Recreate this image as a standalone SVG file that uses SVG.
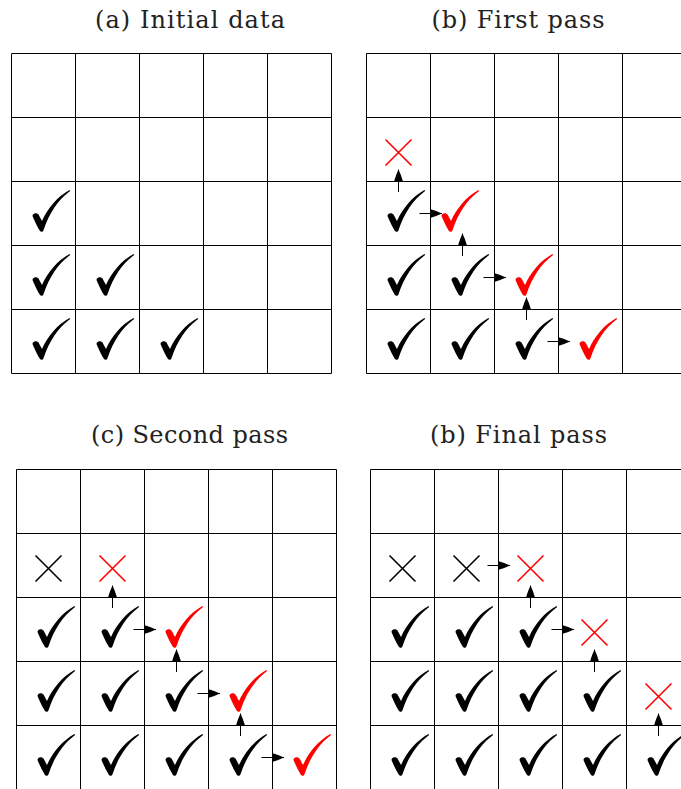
<svg xmlns="http://www.w3.org/2000/svg" xmlns:xlink="http://www.w3.org/1999/xlink" width="681" height="789" viewBox="0 0 681 789">
<style>
.grid{fill:none;stroke:#000;stroke-width:1}
.title{font-family:"DejaVu Serif","Liberation Serif",serif;font-size:24px;fill:#222;text-anchor:middle}
.k{fill:#000}
.r{fill:#f00}
.xk{stroke:#000;stroke-width:1.6;fill:none}
.xr{stroke:#f00;stroke-width:1.6;fill:none}
.arr{stroke:#000;stroke-width:1;fill:none;marker-end:url(#ah)}
</style>
<defs>
<path id="chk" d="M21,34.5 C21,32 24.5,30.5 27,33 L30.5,39.5 C36,27 46,15 58,8.5 C58.6,8.8 58.6,9.6 58,10 C46.5,18.5 37.5,32 32,48.8 C31.3,50.8 29.3,50.8 28.3,49.3 C25.8,45 23,39.5 21,34.5 Z"/>
<path id="crs" d="M19,22 L45,48 M45,22 L19,48"/>
<marker id="ah" viewBox="0 0 12 9" markerWidth="12" markerHeight="9" refX="12" refY="4.5" orient="auto" markerUnits="userSpaceOnUse">
<path d="M0,0 Q7,2 12,4.5 Q7,7 0,9 Z" fill="#000"/>
</marker>
</defs>
<rect width="681" height="789" fill="#fff"/>

<g id="titles">
<text class="title" x="190" y="28" textLength="190" lengthAdjust="spacing">(a) Initial data</text>
<text class="title" x="518" y="28" textLength="173" lengthAdjust="spacing">(b) First pass</text>
<text class="title" x="189.5" y="443" textLength="197" lengthAdjust="spacing">(c) Second pass</text>
<text class="title" x="518.5" y="443" textLength="177" lengthAdjust="spacing">(b) Final pass</text>
</g>

<g id="gridA"><path class="grid" d="M11.5,53.5h320v320h-320z M75.5,53.5v320 M139.5,53.5v320 M203.5,53.5v320 M267.5,53.5v320 M11.5,117.5h320 M11.5,181.5h320 M11.5,245.5h320 M11.5,309.5h320"/></g>
<g id="gridB"><path class="grid" d="M366.5,53.5h320v320h-320z M430.5,53.5v320 M494.5,53.5v320 M558.5,53.5v320 M622.5,53.5v320 M366.5,117.5h320 M366.5,181.5h320 M366.5,245.5h320 M366.5,309.5h320"/></g>
<g id="gridC"><path class="grid" d="M16.5,469.5h320v320h-320z M80.5,469.5v320 M144.5,469.5v320 M208.5,469.5v320 M272.5,469.5v320 M16.5,533.5h320 M16.5,597.5h320 M16.5,661.5h320 M16.5,725.5h320"/></g>
<g id="gridD"><path class="grid" d="M370.5,469.5h320v320h-320z M434.5,469.5v320 M498.5,469.5v320 M562.5,469.5v320 M626.5,469.5v320 M370.5,533.5h320 M370.5,597.5h320 M370.5,661.5h320 M370.5,725.5h320"/></g>

<g id="panelA">
<g id="a-r2c0"><use xlink:href="#chk" class="k" x="11.5" y="181.5"/></g>
<g id="a-r3c0"><use xlink:href="#chk" class="k" x="11.5" y="245.5"/></g>
<g id="a-r3c1"><use xlink:href="#chk" class="k" x="75.5" y="245.5"/></g>
<g id="a-r4c0"><use xlink:href="#chk" class="k" x="11.5" y="309.5"/></g>
<g id="a-r4c1"><use xlink:href="#chk" class="k" x="75.5" y="309.5"/></g>
<g id="a-r4c2"><use xlink:href="#chk" class="k" x="139.5" y="309.5"/></g>
</g>

<g id="panelB">
<g id="b-r1c0"><use xlink:href="#crs" class="xr" x="366.5" y="117.5"/></g>
<g id="b-r2c0"><use xlink:href="#chk" class="k" x="366.5" y="181.5"/></g>
<g id="b-r2c1"><use xlink:href="#chk" class="r" x="420.5" y="181.5"/></g>
<g id="b-r3c0"><use xlink:href="#chk" class="k" x="366.5" y="245.5"/></g>
<g id="b-r3c1"><use xlink:href="#chk" class="k" x="430.5" y="245.5"/></g>
<g id="b-r3c2"><use xlink:href="#chk" class="r" x="494.5" y="245.5"/></g>
<g id="b-r4c0"><use xlink:href="#chk" class="k" x="366.5" y="309.5"/></g>
<g id="b-r4c1"><use xlink:href="#chk" class="k" x="430.5" y="309.5"/></g>
<g id="b-r4c2"><use xlink:href="#chk" class="k" x="494.5" y="309.5"/></g>
<g id="b-r4c3"><use xlink:href="#chk" class="r" x="558.5" y="309.5"/></g>
</g>

<g id="panelC">
<g id="c-r1c0"><use xlink:href="#crs" class="xk" x="16.5" y="533.5"/></g>
<g id="c-r1c1"><use xlink:href="#crs" class="xr" x="80.5" y="533.5"/></g>
<g id="c-r2c0"><use xlink:href="#chk" class="k" x="16.5" y="597.5"/></g>
<g id="c-r2c1"><use xlink:href="#chk" class="k" x="80.5" y="597.5"/></g>
<g id="c-r2c2"><use xlink:href="#chk" class="r" x="144.5" y="597.5"/></g>
<g id="c-r3c0"><use xlink:href="#chk" class="k" x="16.5" y="661.5"/></g>
<g id="c-r3c1"><use xlink:href="#chk" class="k" x="80.5" y="661.5"/></g>
<g id="c-r3c2"><use xlink:href="#chk" class="k" x="144.5" y="661.5"/></g>
<g id="c-r3c3"><use xlink:href="#chk" class="r" x="208.5" y="661.5"/></g>
<g id="c-r4c0"><use xlink:href="#chk" class="k" x="16.5" y="725.5"/></g>
<g id="c-r4c1"><use xlink:href="#chk" class="k" x="80.5" y="725.5"/></g>
<g id="c-r4c2"><use xlink:href="#chk" class="k" x="144.5" y="725.5"/></g>
<g id="c-r4c3"><use xlink:href="#chk" class="k" x="208.5" y="725.5"/></g>
<g id="c-r4c4"><use xlink:href="#chk" class="r" x="272.5" y="725.5"/></g>
</g>

<g id="panelD">
<g id="d-r1c0"><use xlink:href="#crs" class="xk" x="370.5" y="533.5"/></g>
<g id="d-r1c1"><use xlink:href="#crs" class="xk" x="434.5" y="533.5"/></g>
<g id="d-r1c2"><use xlink:href="#crs" class="xr" x="498.5" y="533.5"/></g>
<g id="d-r2c0"><use xlink:href="#chk" class="k" x="370.5" y="597.5"/></g>
<g id="d-r2c1"><use xlink:href="#chk" class="k" x="434.5" y="597.5"/></g>
<g id="d-r2c2"><use xlink:href="#chk" class="k" x="498.5" y="597.5"/></g>
<g id="d-r2c3"><use xlink:href="#crs" class="xr" x="562.5" y="597.5"/></g>
<g id="d-r3c0"><use xlink:href="#chk" class="k" x="370.5" y="661.5"/></g>
<g id="d-r3c1"><use xlink:href="#chk" class="k" x="434.5" y="661.5"/></g>
<g id="d-r3c2"><use xlink:href="#chk" class="k" x="498.5" y="661.5"/></g>
<g id="d-r3c3"><use xlink:href="#chk" class="k" x="562.5" y="661.5"/></g>
<g id="d-r3c4"><use xlink:href="#crs" class="xr" x="626.5" y="661.5"/></g>
<g id="d-r4c0"><use xlink:href="#chk" class="k" x="370.5" y="725.5"/></g>
<g id="d-r4c1"><use xlink:href="#chk" class="k" x="434.5" y="725.5"/></g>
<g id="d-r4c2"><use xlink:href="#chk" class="k" x="498.5" y="725.5"/></g>
<g id="d-r4c3"><use xlink:href="#chk" class="k" x="562.5" y="725.5"/></g>
<g id="d-r4c4"><use xlink:href="#chk" class="k" x="626.5" y="725.5"/></g>
</g>

<g id="connectors">
<path class="arr" d="M398.5,192V169.5"/>
<path class="arr" d="M419.5,213.5H442"/>
<path class="arr" d="M462.5,256V233.5"/>
<path class="arr" d="M483.5,277.5H506"/>
<path class="arr" d="M526.5,320V297.5"/>
<path class="arr" d="M547.5,341.5H570"/>

<path class="arr" d="M112.5,608V585.5"/>
<path class="arr" d="M133.5,629.5H156"/>
<path class="arr" d="M176.5,672V649.5"/>
<path class="arr" d="M197.5,693.5H220"/>
<path class="arr" d="M240.5,736V713.5"/>
<path class="arr" d="M261.5,757.5H284"/>

<path class="arr" d="M487.5,565.5H510"/>
<path class="arr" d="M530.5,608V585.5"/>
<path class="arr" d="M551.5,629.5H574"/>
<path class="arr" d="M594.5,672V649.5"/>
<path class="arr" d="M658.5,736V713.5"/>
</g>
</svg>
